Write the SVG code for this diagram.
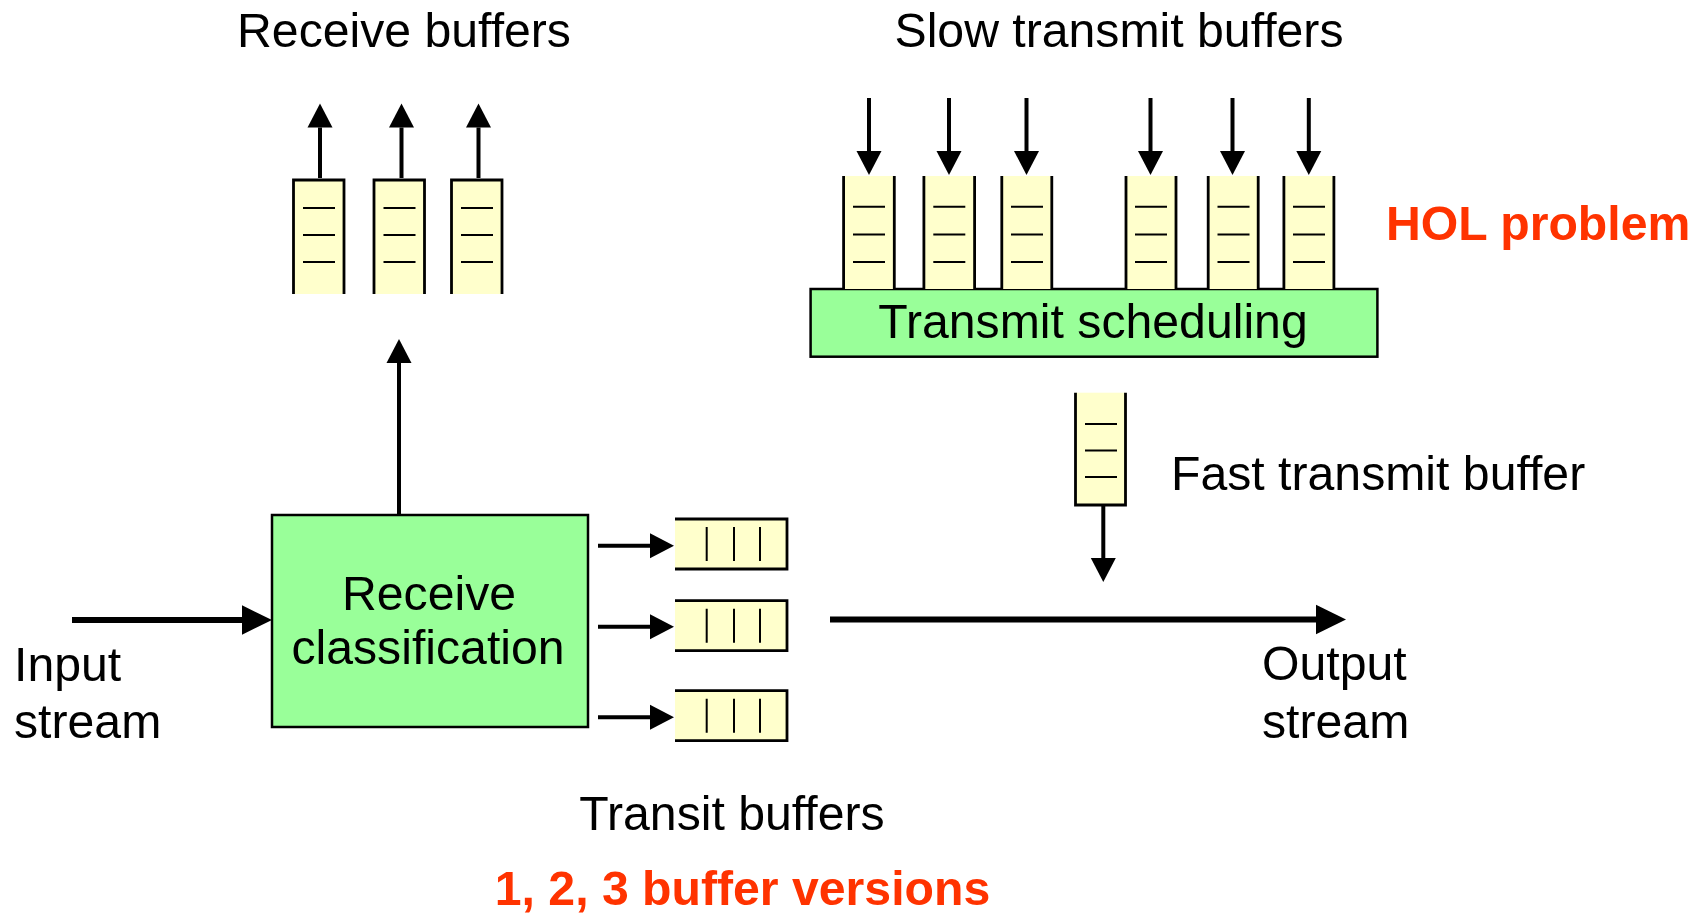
<svg xmlns="http://www.w3.org/2000/svg" width="1706" height="914" viewBox="0 0 1706 914">
<defs>
<style>
text{font-family:"Liberation Sans",Arial,sans-serif;font-size:48.2px;fill:#000}
.red{fill:#FF3300;font-weight:bold}
.mid{text-anchor:middle}
.box{fill:#99FF99;stroke:#000;stroke-width:2.5}
.bf{fill:#FFFFCC;stroke:none}
.bb{fill:none;stroke:#000;stroke-width:2.8}
.sl{stroke:#000;stroke-width:2}
.a{fill:none;stroke:#000;stroke-width:4}
.A{fill:none;stroke:#000;stroke-width:6}
</style>
<marker id="hs" markerUnits="userSpaceOnUse" markerWidth="25" markerHeight="26" refX="0" refY="12.5" orient="auto" overflow="visible">
<path d="M0,0 L24,12.5 L0,25 z" fill="#000"/>
</marker>
<marker id="hb" markerUnits="userSpaceOnUse" markerWidth="31" markerHeight="30" refX="0" refY="14.7" orient="auto" overflow="visible">
<path d="M0,0 L30,14.7 L0,29.4 z" fill="#000"/>
</marker>
</defs>
<rect width="1706" height="914" fill="#fff"/>

<g id="labels">
<text class="mid" x="404" y="47">Receive buffers</text>
<text class="mid" x="1119" y="47">Slow transmit buffers</text>
<text class="red" x="1386" y="240">HOL problem</text>
<text x="1171" y="490">Fast transmit buffer</text>
<text x="14" y="681">Input</text>
<text x="14" y="738">stream</text>
<text x="1262" y="680">Output</text>
<text x="1262" y="738">stream</text>
<text class="mid" x="732" y="830">Transit buffers</text>
<text class="mid red" x="742.5" y="905">1, 2, 3 buffer versions</text>
</g>

<g id="receive-classification">
<rect class="box" x="272" y="515" width="316" height="212"/>
<text class="mid" x="429" y="610">Receive</text>
<text class="mid" x="428" y="664">classification</text>
</g>

<g id="transmit-scheduling">
<rect class="box" x="810.6" y="289" width="566.8" height="67.7"/>
<text class="mid" x="1093" y="338">Transmit scheduling</text>
</g>

<g id="receive-buffers">
<g id="rb1">
<rect class="bf" x="293.5" y="180" width="50.5" height="114"/>
<path class="bb" d="M293.5,294 V180 H344 V294"/>
<path class="sl" d="M303,208 H335 M303,235 H335 M303,262 H335"/>
</g>
<g id="rb2">
<rect class="bf" x="374" y="180" width="50.5" height="114"/>
<path class="bb" d="M374,294 V180 H424.5 V294"/>
<path class="sl" d="M383.5,208 H415.5 M383.5,235 H415.5 M383.5,262 H415.5"/>
</g>
<g id="rb3">
<rect class="bf" x="451.5" y="180" width="50.5" height="114"/>
<path class="bb" d="M451.5,294 V180 H502 V294"/>
<path class="sl" d="M461,208 H493 M461,235 H493 M461,262 H493"/>
</g>
</g>

<g id="slow-buffers">
<g id="sb1">
<rect class="bf" x="843.6" y="176" width="50.7" height="113"/>
<path class="bb" d="M843.6,176 V289 M894.3,176 V289"/>
<path class="sl" d="M853,206.7 H885 M853,234.5 H885 M853,262 H885"/>
</g>
<g id="sb2">
<rect class="bf" x="923.9" y="176" width="50.7" height="113"/>
<path class="bb" d="M923.9,176 V289 M974.6,176 V289"/>
<path class="sl" d="M933.3,206.7 H965.3 M933.3,234.5 H965.3 M933.3,262 H965.3"/>
</g>
<g id="sb3">
<rect class="bf" x="1001.8" y="176" width="50" height="113"/>
<path class="bb" d="M1001.8,176 V289 M1051.8,176 V289"/>
<path class="sl" d="M1011,206.7 H1043 M1011,234.5 H1043 M1011,262 H1043"/>
</g>
<g id="sb4">
<rect class="bf" x="1126" y="176" width="50" height="113"/>
<path class="bb" d="M1126,176 V289 M1176,176 V289"/>
<path class="sl" d="M1135,206.7 H1167 M1135,234.5 H1167 M1135,262 H1167"/>
</g>
<g id="sb5">
<rect class="bf" x="1208.2" y="176" width="50" height="113"/>
<path class="bb" d="M1208.2,176 V289 M1258.2,176 V289"/>
<path class="sl" d="M1217.5,206.7 H1249.5 M1217.5,234.5 H1249.5 M1217.5,262 H1249.5"/>
</g>
<g id="sb6">
<rect class="bf" x="1283.9" y="176" width="50" height="113"/>
<path class="bb" d="M1283.9,176 V289 M1333.9,176 V289"/>
<path class="sl" d="M1293,206.7 H1325 M1293,234.5 H1325 M1293,262 H1325"/>
</g>
</g>

<g id="fast-buffer">
<rect class="bf" x="1075.5" y="392.7" width="50" height="112.3"/>
<path class="bb" d="M1075.5,392.7 V505 H1125.5 V392.7"/>
<path class="sl" d="M1085,424 H1117 M1085,450.5 H1117 M1085,477 H1117"/>
</g>

<g id="transit-buffers">
<g id="tb1">
<rect class="bf" x="675" y="519" width="112" height="50"/>
<path class="bb" d="M675,519 H787 V569 H675"/>
<path class="sl" d="M706.7,527 V561 M734,527 V561 M760,527 V561"/>
</g>
<g id="tb2">
<rect class="bf" x="675" y="600.7" width="112" height="50"/>
<path class="bb" d="M675,600.7 H787 V650.7 H675"/>
<path class="sl" d="M706.7,608.7 V642.7 M734,608.7 V642.7 M760,608.7 V642.7"/>
</g>
<g id="tb3">
<rect class="bf" x="675" y="690.7" width="112" height="50"/>
<path class="bb" d="M675,690.7 H787 V740.7 H675"/>
<path class="sl" d="M706.7,698.7 V732.7 M734,698.7 V732.7 M760,698.7 V732.7"/>
</g>
</g>

<g id="connectors">
<path class="a" d="M320,178 V127.5" marker-end="url(#hs)"/>
<path class="a" d="M401.5,178 V127.5" marker-end="url(#hs)"/>
<path class="a" d="M478.5,178 V127.5" marker-end="url(#hs)"/>
<path class="a" d="M399,515 V363" marker-end="url(#hs)"/>
<path class="a" d="M869,98 V151" marker-end="url(#hs)"/>
<path class="a" d="M949,98 V151" marker-end="url(#hs)"/>
<path class="a" d="M1026.5,98 V151" marker-end="url(#hs)"/>
<path class="a" d="M1150.5,98 V151" marker-end="url(#hs)"/>
<path class="a" d="M1232.5,98 V151" marker-end="url(#hs)"/>
<path class="a" d="M1308.8,98 V151" marker-end="url(#hs)"/>
<path class="a" d="M1103.3,505 V558" marker-end="url(#hs)"/>
<path class="a" d="M598,545.7 H650" marker-end="url(#hs)"/>
<path class="a" d="M598,626.7 H650" marker-end="url(#hs)"/>
<path class="a" d="M598,717.3 H650" marker-end="url(#hs)"/>
<path class="A" d="M72,620 H242" marker-end="url(#hb)"/>
<path class="A" d="M830,619.5 H1316" marker-end="url(#hb)"/>
</g>
</svg>
